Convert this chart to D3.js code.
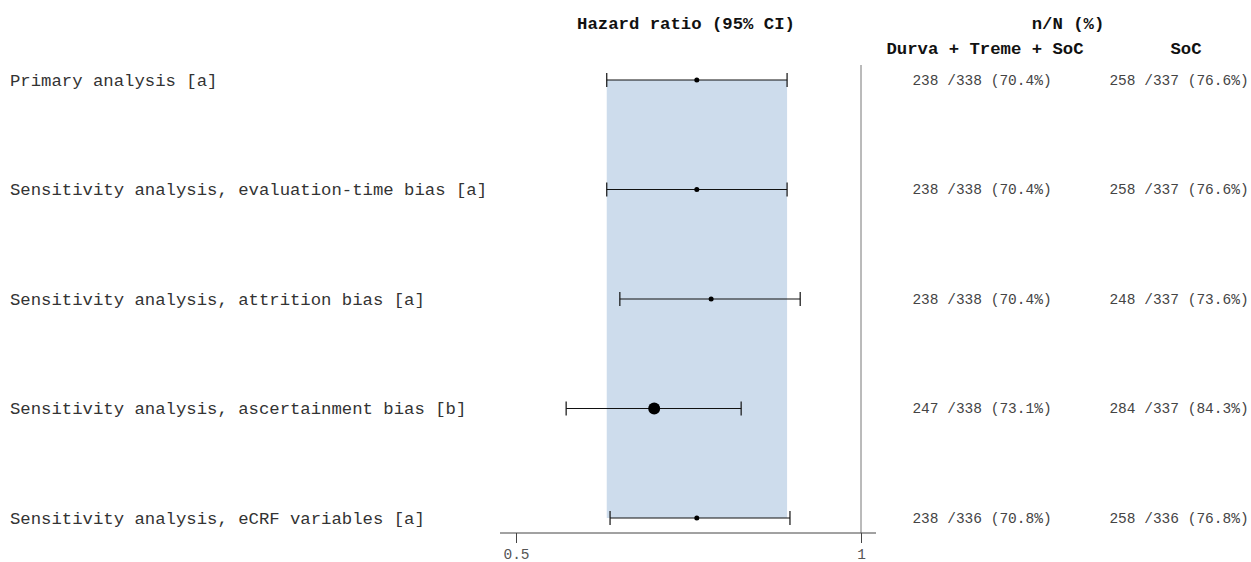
<!DOCTYPE html>
<html>
<head>
<meta charset="utf-8">
<script src="https://cdn.jsdelivr.net/npm/d3@7"></script>
<style>
  body { margin: 0; background: #fff; }
  text { font-family: "Liberation Mono", "Courier New", monospace; }
</style>
</head>
<body>
<div class="forest"></div>
<script>
// analyses, one per row
var labels = [
  "Primary analysis [a]",
  "Sensitivity analysis, evaluation-time bias [a]",
  "Sensitivity analysis, attrition bias [a]",
  "Sensitivity analysis, ascertainment bias [b]",
  "Sensitivity analysis, eCRF variables [a]"
];
var hr    = [0.719, 0.719, 0.740, 0.660, 0.719];
var lower = [0.600, 0.600, 0.616, 0.553, 0.604];
var upper = [0.862, 0.862, 0.885, 0.786, 0.867];
var big   = [false, false, false, true, false];

// n/N (%) per arm
var armA = ["238 /338 (70.4%)", "238 /338 (70.4%)", "238 /338 (70.4%)", "247 /338 (73.1%)", "238 /336 (70.8%)"];
var armB = ["258 /337 (76.6%)", "258 /337 (76.6%)", "248 /337 (73.6%)", "284 /337 (84.3%)", "258 /336 (76.8%)"];
var armNames = ["Durva + Treme + SoC", "SoC"];
var ticks = [0.5, 1];

var w = 1251, h = 562;

var svg = d3.select('.forest').append('svg')
  .attr('width', w)
  .attr('height', h);

var x = d3.scaleLog().domain([0.5, 1]).range([516, 861]);
var y = d3.scalePoint().domain(d3.range(labels.length)).range([80, 518]);
var axisY = 533;

/*----------------------- shaded band (primary CI) -----------------------*/
svg.append('rect')
  .attr('x', x(lower[0]))
  .attr('y', y(0))
  .attr('width', x(upper[0]) - x(lower[0]))
  .attr('height', y(labels.length - 1) - y(0))
  .attr('fill', '#cddcec');

/*----------------------- reference line at 1 -----------------------*/
svg.append('line')
  .attr('x1', x(1)).attr('x2', x(1))
  .attr('y1', 65).attr('y2', axisY)
  .attr('stroke', '#777')
  .attr('stroke-width', 1);

/*----------------------- axis -----------------------*/
var axis = svg.append('g')
  .attr('transform', 'translate(0,' + axisY + ')')
  .call(d3.axisBottom(x).tickValues(ticks).tickFormat(d3.format('')).tickSize(10).tickSizeOuter(0));
axis.select('.domain').remove();
axis.append('line')
  .attr('x1', 500).attr('x2', 876)
  .attr('stroke', '#444');
axis.selectAll('.tick line').attr('stroke', '#444');
axis.selectAll('.tick text')
  .attr('y', 16)
  .attr('fill', '#555')
  .style('font-family', '"Liberation Mono", monospace')
  .style('font-size', '14.5px');

/*----------------------- CI whiskers -----------------------*/
var rows = svg.selectAll('.row').data(labels).enter()
  .append('g')
  .attr('class', 'row');

rows.append('line')
  .attr('x1', function(d, i) { return x(lower[i]); })
  .attr('x2', function(d, i) { return x(upper[i]); })
  .attr('y1', function(d, i) { return y(i); })
  .attr('y2', function(d, i) { return y(i); })
  .attr('stroke', '#111')
  .attr('stroke-width', 1.2);

[lower, upper].forEach(function(arr) {
  rows.append('line')
    .attr('x1', function(d, i) { return x(arr[i]); })
    .attr('x2', function(d, i) { return x(arr[i]); })
    .attr('y1', function(d, i) { return y(i) - 7; })
    .attr('y2', function(d, i) { return y(i) + 7; })
    .attr('stroke', '#111')
    .attr('stroke-width', 1.2);
});

rows.append('circle')
  .attr('cx', function(d, i) { return x(hr[i]); })
  .attr('cy', function(d, i) { return y(i); })
  .attr('r', function(d, i) { return big[i] ? 6 : 2.5; })
  .attr('fill', '#000');

/*----------------------- text columns -----------------------*/
rows.append('text')
  .attr('x', 10)
  .attr('y', function(d, i) { return y(i); })
  .attr('dy', '0.32em')
  .attr('fill', '#333')
  .style('font-size', '17.3px')
  .text(function(d) { return d; });

rows.append('text')
  .attr('x', 982)
  .attr('y', function(d, i) { return y(i); })
  .attr('dy', '0.32em')
  .attr('text-anchor', 'middle')
  .attr('fill', '#444')
  .style('font-size', '14.5px')
  .text(function(d, i) { return armA[i]; });

rows.append('text')
  .attr('x', 1179)
  .attr('y', function(d, i) { return y(i); })
  .attr('dy', '0.32em')
  .attr('text-anchor', 'middle')
  .attr('fill', '#444')
  .style('font-size', '14.5px')
  .text(function(d, i) { return armB[i]; });

/*----------------------- headers -----------------------*/
var hdr = svg.append('g')
  .attr('fill', '#111')
  .style('font-size', '17.3px')
  .style('font-weight', 'bold')
  .attr('text-anchor', 'middle');

hdr.append('text').attr('x', 686).attr('y', 29).text('Hazard ratio (95% CI)');
hdr.append('text').attr('x', 1068).attr('y', 29).text('n/N (%)');
hdr.append('text').attr('x', 985).attr('y', 54).text(armNames[0]);
hdr.append('text').attr('x', 1186).attr('y', 54).text(armNames[1]);
</script>
</body>
</html>
